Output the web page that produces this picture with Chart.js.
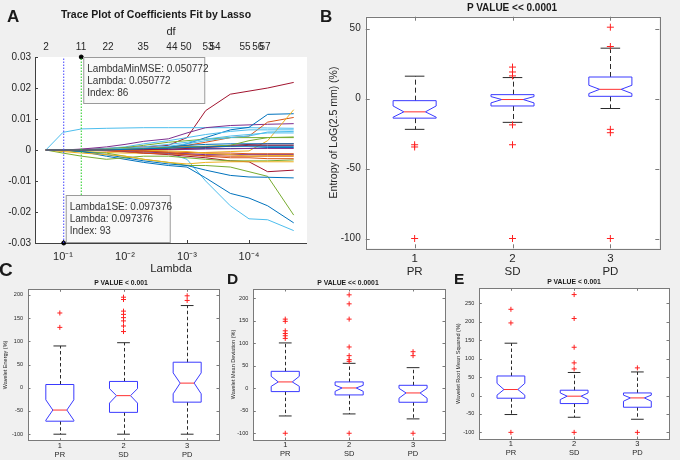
<!DOCTYPE html>
<html>
<head>
<meta charset="utf-8">
<script src="https://cdn.jsdelivr.net/npm/chart.js@4.4.1/dist/chart.umd.min.js"></script>
<style>
  body { margin: 0; background: #f0f0f0; }
  #fig { position: relative; width: 680px; height: 460px; overflow: hidden; background: #f0f0f0;
         font-family: 'Liberation Sans', Arial, sans-serif; color: #1a1a1a; }
  canvas { position: absolute; }
  .t { position: absolute; line-height: 1; white-space: nowrap; font-weight: bold; }
</style>
</head>
<body>
<div id="fig">
  <canvas id="cA" width="320" height="280" style="left:0;top:0"></canvas>
  <canvas id="cB" width="360" height="280" style="left:320px;top:0"></canvas>
  <canvas id="cC" width="225" height="184" style="left:0;top:276px"></canvas>
  <canvas id="cD" width="225" height="184" style="left:225px;top:276px"></canvas>
  <canvas id="cE" width="230" height="184" style="left:450px;top:276px"></canvas>

  <div class="t" style="left:7px;top:8px;font-size:17px">A</div>
  <div class="t" style="left:320px;top:8px;font-size:17px">B</div>
  <div class="t" style="left:-1px;top:260px;font-size:19px">C</div>
  <div class="t" style="left:227px;top:271px;font-size:15.5px">D</div>
  <div class="t" style="left:454px;top:271px;font-size:15.5px">E</div>

  <div class="t" style="left:56px;width:200px;text-align:center;top:9px;font-size:10.5px">Trace Plot of Coefficients Fit by Lasso</div>
  <div class="t" style="left:412px;width:200px;text-align:center;top:3px;font-size:10px">P VALUE &lt;&lt; 0.0001</div>
  <div class="t" style="left:61px;width:120px;text-align:center;top:280px;font-size:6.8px">P VALUE &lt; 0.001</div>
  <div class="t" style="left:288px;width:120px;text-align:center;top:280px;font-size:6.8px">P VALUE &lt;&lt; 0.0001</div>
  <div class="t" style="left:514px;width:120px;text-align:center;top:279px;font-size:6.8px">P VALUE &lt; 0.001</div>
</div>
<script>
Chart.defaults.font.family = "'Liberation Sans', Arial, sans-serif"
Chart.defaults.color = '#262626'

// ---------- A: lasso trace ----------
const lambdaGrid = [0.189, 0.1, 0.05, 0.02, 0.01, 0.005, 0.002, 0.001, 0.0005, 0.0002, 0.0001, 0.00005, 0.000019]
const coefPaths = [
    [0, 0, 0, 0, 0.0002, 0.0004, 0.0006, 0.0008, 0.001, 0.0012, 0.0012, 0.0012, 0.0012],
    [0, 0, 0, 0, -0.0001, -0.0003, -0.0008, -0.0015, -0.002, -0.0025, -0.0025, -0.0028, -0.0028],
    [0, 0, 0, 0, 0, 0.0001, 0.0003, 0.0005, 0.0008, 0.0012, 0.0015, 0.0015, 0.0015],
    [0, 0, 0, 0.0001, 0.0003, 0.0005, 0.0008, 0.001, 0.0012, 0.0015, 0.003, 0.004, 0.0042],
    [0, 0, 0, 0, 0, -0.0001, -0.0003, -0.0005, -0.001, -0.0015, -0.002, -0.0018, -0.0018],
    [0, 0, 0, 0, 0, 0, 0.0001, 0.0002, 0.0003, 0.0004, 0.0005, 0.0005, 0.0005],
    [0, 0, 0, 0, 0.0002, 0.0005, 0.0012, 0.002, 0.003, 0.004, 0.0045, 0.0058, 0.006],
    [0, 0, 0, 0, 0, 0, 0.0002, 0.0003, 0.0005, 0.0005, 0.0005, 0.0008, 0.0008],
    [0, 0, 0, 0, -0.0002, -0.0004, -0.0006, -0.0008, -0.001, -0.001, -0.0012, -0.0012, -0.0012],
    [0, 0, 0, 0.0002, 0.0005, 0.001, 0.0018, 0.0025, 0.0035, 0.0045, 0.005, 0.0055, 0.0055],
    [0, 0, 0, 0, -0.0003, -0.0006, -0.001, -0.0012, -0.0015, -0.0015, -0.0015, -0.0015, -0.0015],
    [0, 0, 0, 0, 0.0002, 0.0005, 0.001, 0.0015, 0.0018, 0.002, 0.002, 0.002, 0.002],
    [0, 0, 0, 0, 0, 0.0003, 0.0008, 0.001, 0.001, 0.0015, 0.0018, 0.002, 0.002],
    [0, 0, 0, -0.0003, -0.0006, -0.001, -0.0013, -0.0015, -0.0018, -0.002, -0.002, -0.002, -0.002],
    [0, 0, 0, 0.0003, 0.0008, 0.0015, 0.0025, 0.003, 0.0035, 0.004, 0.004, 0.004, 0.004],
    [0, 0, 0, 0.0005, 0.001, 0.002, 0.003, 0.004, 0.005, 0.006, 0.0065, 0.0065, 0.0065],
    [0, -0.0005, -0.001, -0.0015, -0.002, -0.003, -0.004, -0.0045, -0.004, -0.0038, -0.0038, -0.0038, -0.0038],
    [0, -0.001, -0.002, -0.003, -0.0025, -0.002, -0.002, -0.0025, -0.003, -0.0035, -0.0035, -0.0035, -0.0032],
    [0, 0, 0, -0.0002, -0.0005, -0.001, -0.0015, -0.002, -0.0025, -0.0035, -0.0038, -0.007, -0.0065],
    [0, 0, -0.0005, -0.0015, -0.0025, -0.0035, -0.0045, -0.005, -0.0065, -0.0082, -0.0087, -0.0088, -0.009],
    [0, 0, -0.0005, -0.001, -0.002, -0.003, -0.004, -0.005, -0.005, -0.0055, -0.007, -0.0085, -0.021],
    [0, 0, -0.0005, -0.002, -0.003, -0.004, -0.005, -0.0055, -0.009, -0.014, -0.0155, -0.018, -0.0235],
    [0, 0, 0, 0, 0, -0.0003, -0.001, -0.003, -0.01, -0.018, -0.0222, -0.0225, -0.026],
    [0, -0.0003, -0.0005, -0.0008, -0.001, -0.001, -0.001, -0.001, -0.0008, -0.0005, -0.0003, 0.003, 0.013],
    [0, 0, 0, 0, 0.0002, 0.0005, 0.001, 0.0015, 0.0025, 0.004, 0.0045, 0.009, 0.0105],
    [0, 0, 0, 0, 0.0001, 0.0002, 0.0005, 0.002, 0.004, 0.0065, 0.0073, 0.0115, 0.0117],
    [0, 0, 0.0003, 0.001, 0.0018, 0.0028, 0.0036, 0.0055, 0.0072, 0.0079, 0.0081, 0.0083, 0.0085],
    [0, 0.0057, 0.0068, 0.007, 0.0071, 0.0072, 0.0072, 0.0072, 0.0072, 0.0072, 0.0072, 0.0071, 0.007],
    [0, 0, 0.0002, 0.0005, 0.0008, 0.001, 0.0015, 0.004, 0.0127, 0.018, 0.019, 0.02, 0.0218]
]
const coefColors = ['#0072BD', '#D95319', '#A2142F', '#77AC30', '#EDB120', '#7E2F8E', '#4DBEEE',
    '#0072BD', '#D95319', '#4DBEEE', '#7E2F8E', '#0072BD', '#A2142F', '#D95319', '#77AC30', '#4DBEEE',
    '#EDB120', '#77AC30', '#A2142F', '#0072BD', '#77AC30', '#0072BD', '#4DBEEE', '#EDB120', '#D95319',
    '#0072BD', '#7E2F8E', '#4DBEEE', '#A2142F']

const lambdaTicks = [0.1, 0.01, 0.001, 0.0001]
const lambdaTickLabels = ['10\u207B\u00B9', '10\u207B\u00B2', '10\u207B\u00B3', '10\u207B\u2074']
const dfLabels = ['2', '11', '22', '35', '44', '50', '53', '54', '55', '56', '57']
const dfLambda = [0.188, 0.0512, 0.0188, 0.0051, 0.00175, 0.00104, 0.000458, 0.000353, 0.000116, 0.000072, 0.000055]
const coefTicks = [-0.03, -0.02, -0.01, 0, 0.01, 0.02, 0.03]
const coefTickLabels = ['-0.03', '-0.02', '-0.01', '0', '0.01', '0.02', '0.03']
const lambdaMinMSE = 0.050772
const lambda1SE = 0.097376
const tipMinMSE = ['LambdaMinMSE: 0.050772', 'Lambda: 0.050772', 'Index: 86']
const tip1SE = ['Lambda1SE: 0.097376', 'Lambda: 0.097376', 'Index: 93']

// ---------- box plots ----------
const groups = ['PR', 'SD', 'PD']
const groupPos = [1, 2, 3]

const entLo = [-22, -17, -7.1]
const entQ1 = [-14, -5.3, 1.6]
const entNotchLo = [-13.3, -3.1, 3.6]
const entMed = [-9.5, -0.7, 6.6]
const entNotchHi = [-5.3, 1.4, 9.5]
const entQ3 = [-1.5, 2.8, 15.4]
const entHi = [16, 15, 36]
const entOut = [[-33, -34.6, -100], [22.5, 19, 16.2, -18.8, -33, -100], [51, 37.2, -22, -24.4, -100]]
const entTicks = [-100, -50, 0, 50]

const engLo = [-100, -100, -100]
const engQ1 = [-72, -53, -31]
const engNotchLo = [-70, -33, -13]
const engMed = [-48, -17, 10]
const engNotchHi = [-26, -2, 32]
const engQ3 = [7, 13.6, 55]
const engHi = [90, 97, 177]
const engOut = [[161, 130], [195, 190, 165, 158, 151, 144, 133, 121], [198, 188]]
const engTicks = [-100, -50, 0, 50, 100, 150, 200]

const devLo = [-61.5, -57, -68]
const devQ1 = [-7.3, -14.7, -31]
const devNotchLo = [4.4, -6.7, -22]
const devMed = [14.2, 0.8, -10.3]
const devNotchHi = [26.7, 6.7, 0]
const devQ3 = [37.8, 14.2, 6.7]
const devHi = [101, 55.6, 46]
const devOut = [[154, 149, 128, 122, 117, 111, -100], [208, 188, 154, 92, 72.7, 63.8, 60, -100], [81.5, 72.7, -100]]
const devTicks = [-100, -50, 0, 50, 100, 150, 200]

const rmsLo = [-51.6, -59, -64.4]
const rmsQ1 = [-7.3, -21.8, -31.8]
const rmsNotchLo = [1, -11, -15.5]
const rmsMed = [16.3, -1.8, -6.5]
const rmsNotchHi = [33, 7, 1]
const rmsQ3 = [53, 14.4, 7]
const rmsHi = [142, 62.5, 64]
const rmsOut = [[234, 197, -100], [274, 209, 131, 88.6, 72.3, -100], [75, -100]]
const rmsTicks = [-100, -50, 0, 50, 100, 150, 200, 250]

// white plot area
const whiteArea = {
    id: 'whiteArea',
    beforeDraw(chart) {
        const { ctx, chartArea: a } = chart
        ctx.save()
        ctx.fillStyle = '#ffffff'
        ctx.fillRect(a.left, a.top, a.right - a.left, a.bottom - a.top)
        ctx.restore()
    }
}

function tickValues(list) {
    return s => { s.ticks = list.map(v => ({ value: v })) }
}

// ---------- panel A ----------
const traceSets = coefPaths.map((p, i) => ({
    data: lambdaGrid.map((l, j) => ({ x: l, y: p[j] })),
    borderColor: coefColors[i],
    borderWidth: 1,
    pointRadius: 0,
    tension: 0,
    fill: false
}))
traceSets.unshift(
    { data: [{ x: lambdaMinMSE, y: -0.03 }, { x: lambdaMinMSE, y: 0.03 }], borderColor: '#22cc22', borderWidth: 1, borderDash: [1.5, 1.5], pointRadius: 0 },
    { data: [{ x: lambda1SE, y: -0.03 }, { x: lambda1SE, y: 0.03 }], borderColor: '#4444ff', borderWidth: 1, borderDash: [1.5, 1.5], pointRadius: 0 }
)
traceSets.push({
    data: [{ x: lambdaMinMSE, y: 0.03 }, { x: lambda1SE, y: -0.03 }],
    showLine: false, pointRadius: 2, backgroundColor: '#000', borderColor: '#000', clip: false
})

const tracePlugin = {
    id: 'traceExtras',
    beforeDatasetsDraw(chart) {
        const { ctx, chartArea: a, scales } = chart
        ctx.save()
        ctx.strokeStyle = '#404040'
        ctx.lineWidth = 1
        ctx.beginPath()
        ctx.moveTo(a.left + 0.5, a.top)
        ctx.lineTo(a.left + 0.5, a.bottom + 0.5)
        ctx.lineTo(a.right, a.bottom + 0.5)
        coefTicks.forEach(v => {
            const y = Math.round(scales.y.getPixelForValue(v)) + 0.5
            ctx.moveTo(a.left, y); ctx.lineTo(a.left + 3, y)
        })
        lambdaTicks.forEach(v => {
            const x = Math.round(scales.x.getPixelForValue(v)) + 0.5
            ctx.moveTo(x, a.bottom); ctx.lineTo(x, a.bottom - 3)
        })
        ctx.stroke()
        ctx.restore()
    },
    afterDatasetsDraw(chart) {
        const { ctx, scales } = chart
        const drawTip = (lx, ly, dx, dy, w, h, lines) => {
            const x0 = scales.x.getPixelForValue(lx) + dx
            const y0 = scales.y.getPixelForValue(ly) + dy
            ctx.save()
            ctx.fillStyle = '#f8f8f8'
            ctx.strokeStyle = '#9a9a9a'
            ctx.lineWidth = 1
            ctx.fillRect(x0, y0, w, h)
            ctx.strokeRect(x0 + 0.5, y0 + 0.5, w, h)
            ctx.fillStyle = '#333'
            ctx.font = "10px 'Liberation Sans', Arial, sans-serif"
            ctx.textBaseline = 'middle'
            lines.forEach((t, i) => ctx.fillText(t, x0 + 4, y0 + 12 + i * 12.3))
            ctx.restore()
        }
        drawTip(lambdaMinMSE, 0.03, 2, 0, 121, 46, tipMinMSE)
        drawTip(lambda1SE, -0.03, 2, -48, 104, 47, tip1SE)
    }
}

new Chart(document.getElementById('cA'), {
    type: 'line',
    data: { datasets: traceSets },
    options: {
        responsive: false,
        animation: false,
        layout: { padding: { top: 22, right: 13, left: 0, bottom: 0 } },
        plugins: { legend: { display: false }, tooltip: { enabled: false } },
        scales: {
            x: {
                type: 'logarithmic', reverse: true, min: 1.16e-5, max: 0.283, position: 'bottom',
                afterBuildTicks: tickValues(lambdaTicks),
                ticks: { callback: (v, i) => lambdaTickLabels[i], autoSkip: false, maxRotation: 0, padding: 7, font: { size: 11 } },
                grid: { display: false, drawTicks: false }, border: { display: false },
                title: { display: true, text: 'Lambda', font: { size: 11.5 }, padding: { top: 0, bottom: 4 } },
                afterFit: s => { s.height = 37 }
            },
            xTop: {
                type: 'logarithmic', reverse: true, min: 1.16e-5, max: 0.283, position: 'top',
                afterBuildTicks: tickValues(dfLambda),
                ticks: { callback: (v, i) => dfLabels[i], autoSkip: false, maxRotation: 0, padding: 4, font: { size: 10 } },
                grid: { display: false, drawTicks: false }, border: { display: false },
                title: { display: true, text: 'df', font: { size: 11 }, padding: { top: 3, bottom: 0 } },
                afterFit: s => { s.height = 35 }
            },
            y: {
                min: -0.03, max: 0.03,
                afterBuildTicks: tickValues(coefTicks),
                ticks: { callback: (v, i) => coefTickLabels[i], padding: 4, font: { size: 10 } },
                grid: { display: false, drawTicks: false }, border: { display: false },
                afterFit: s => { s.width = 35 }
            }
        }
    },
    plugins: [whiteArea, tracePlugin]
})

// ---------- box plot panels ----------
function boxChart(id, st, cfg) {
    const pts = []
    st.out.forEach((list, i) => list.forEach(v => pts.push({ x: groupPos[i], y: v })))

    const boxes = {
        id: 'notchBoxes',
        beforeDatasetsDraw(chart) {
            const { ctx, chartArea: a, scales: { x: sx, y: sy } } = chart
            const px = v => sx.getPixelForValue(v)
            const py = v => sy.getPixelForValue(v)
            ctx.save()
            // frame + inward ticks
            ctx.strokeStyle = '#7a7a7a'
            ctx.lineWidth = 1
            ctx.strokeRect(Math.round(a.left) + 0.5, Math.round(a.top) + 0.5, Math.round(a.right - a.left), Math.round(a.bottom - a.top))
            ctx.beginPath()
            cfg.ticks.forEach(v => {
                const y = Math.round(py(v)) + 0.5
                ctx.moveTo(a.left, y); ctx.lineTo(a.left + cfg.tl, y)
                ctx.moveTo(a.right, y); ctx.lineTo(a.right - cfg.tl, y)
            })
            groupPos.forEach(g => {
                const x = Math.round(px(g)) + 0.5
                ctx.moveTo(x, a.bottom); ctx.lineTo(x, a.bottom - cfg.tl)
                ctx.moveTo(x, a.top); ctx.lineTo(x, a.top + cfg.tl)
            })
            ctx.stroke()

            const w = 0.22
            const cap = 0.1
            groupPos.forEach((g, i) => {
                // whiskers
                ctx.strokeStyle = '#2a2a2a'
                ctx.lineWidth = 1
                ctx.setLineDash(cfg.dash)
                ctx.beginPath()
                const xc = Math.round(px(g)) + 0.5
                ctx.moveTo(xc, py(st.q3[i])); ctx.lineTo(xc, py(st.hi[i]))
                ctx.moveTo(xc, py(st.q1[i])); ctx.lineTo(xc, py(st.lo[i]))
                ctx.stroke()
                ctx.setLineDash([])
                ctx.beginPath()
                ctx.moveTo(px(g - cap), py(st.hi[i])); ctx.lineTo(px(g + cap), py(st.hi[i]))
                ctx.moveTo(px(g - cap), py(st.lo[i])); ctx.lineTo(px(g + cap), py(st.lo[i]))
                ctx.stroke()
                // notched box
                ctx.fillStyle = '#ffffff'
                ctx.strokeStyle = '#3a3aff'
                ctx.beginPath()
                ctx.moveTo(px(g - w), py(st.q3[i]))
                ctx.lineTo(px(g + w), py(st.q3[i]))
                ctx.lineTo(px(g + w), py(st.nhi[i]))
                ctx.lineTo(px(g + w / 2), py(st.med[i]))
                ctx.lineTo(px(g + w), py(st.nlo[i]))
                ctx.lineTo(px(g + w), py(st.q1[i]))
                ctx.lineTo(px(g - w), py(st.q1[i]))
                ctx.lineTo(px(g - w), py(st.nlo[i]))
                ctx.lineTo(px(g - w / 2), py(st.med[i]))
                ctx.lineTo(px(g - w), py(st.nhi[i]))
                ctx.closePath()
                ctx.stroke()
                // median
                ctx.strokeStyle = '#ff3030'
                ctx.beginPath()
                ctx.moveTo(px(g - w / 2), py(st.med[i])); ctx.lineTo(px(g + w / 2), py(st.med[i]))
                ctx.stroke()
            })
            ctx.restore()
        }
    }

    new Chart(document.getElementById(id), {
        type: 'scatter',
        data: {
            datasets: [{
                data: pts, pointStyle: 'cross', pointRadius: cfg.r, borderColor: '#ff2020',
                borderWidth: 1, backgroundColor: '#ff2020'
            }]
        },
        options: {
            responsive: false,
            animation: false,
            layout: { padding: { top: cfg.top, right: cfg.right, left: 0, bottom: 0 } },
            plugins: { legend: { display: false }, tooltip: { enabled: false } },
            scales: {
                x: {
                    type: 'linear', min: 0.5, max: 3.5,
                    afterBuildTicks: tickValues(groupPos),
                    ticks: { callback: (v, i) => [String(v), groups[i]], autoSkip: false, maxRotation: 0,
                             padding: cfg.xPad, font: { size: cfg.xFont, lineHeight: 1.15 } },
                    grid: { display: false, drawTicks: false }, border: { display: false },
                    afterFit: s => { s.height = cfg.xH }
                },
                y: {
                    min: cfg.min, max: cfg.max,
                    afterBuildTicks: tickValues(cfg.ticks),
                    ticks: { padding: cfg.yPad, font: { size: cfg.yFont } },
                    grid: { display: false, drawTicks: false }, border: { display: false },
                    title: { display: true, text: cfg.title, font: { size: cfg.tFont }, padding: { top: cfg.tPad, bottom: 0 } },
                    afterFit: s => { s.width = cfg.yW }
                }
            }
        },
        plugins: [whiteArea, boxes]
    })
}

boxChart('cB',
    { lo: entLo, q1: entQ1, nlo: entNotchLo, med: entMed, nhi: entNotchHi, q3: entQ3, hi: entHi, out: entOut },
    { min: -107, max: 58.5, ticks: entTicks, title: 'Entropy of LoG(2.5 mm) (%)', top: 16.7, right: 20.7,
      yW: 45.7, xH: 31.7, xPad: 4, xFont: 11.5, yPad: 5, yFont: 10, tFont: 10.5, tPad: 8, r: 3.5, tl: 4, dash: [5, 3] })

boxChart('cC',
    { lo: engLo, q1: engQ1, nlo: engNotchLo, med: engMed, nhi: engNotchHi, q3: engQ3, hi: engHi, out: engOut },
    { min: -114, max: 212, ticks: engTicks, title: 'Wavelet Energy (%)', top: 13.3, right: 6,
      yW: 28, xH: 19.3, xPad: 1, xFont: 7.5, yPad: 5, yFont: 5.5, tFont: 5.5, tPad: 2.5, r: 2.5, tl: 2.5, dash: [3.5, 2.5] })

boxChart('cD',
    { lo: devLo, q1: devQ1, nlo: devNotchLo, med: devMed, nhi: devNotchHi, q3: devQ3, hi: devHi, out: devOut },
    { min: -115, max: 221, ticks: devTicks, title: 'Wavelet Mean Deviation (%)', top: 13, right: 5,
      yW: 28.3, xH: 20, xPad: 1, xFont: 7.5, yPad: 5, yFont: 5.5, tFont: 5.5, tPad: 5, r: 2.5, tl: 2.5, dash: [3.5, 2.5] })

boxChart('cE',
    { lo: rmsLo, q1: rmsQ1, nlo: rmsNotchLo, med: rmsMed, nhi: rmsNotchHi, q3: rmsQ3, hi: rmsHi, out: rmsOut },
    { min: -118, max: 291, ticks: rmsTicks, title: 'Wavelet Root Mean Squared (%)', top: 12.3, right: 11,
      yW: 29.3, xH: 21, xPad: 1, xFont: 7.5, yPad: 5, yFont: 5.5, tFont: 5.5, tPad: 5, r: 2.5, tl: 2.5, dash: [3.5, 2.5] })
</script>
</body>
</html>
